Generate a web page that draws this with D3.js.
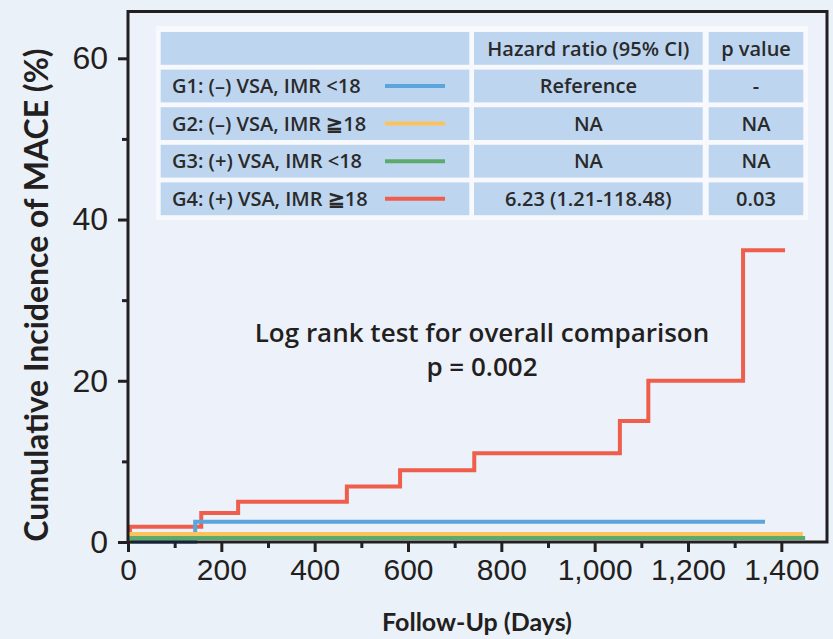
<!DOCTYPE html>
<html>
<head>
<meta charset="utf-8">
<script src="https://cdn.jsdelivr.net/npm/d3@7"></script>
<style>
  body { margin: 0; background: #ebf1f9; }
  svg { display: block; font-family: "Open Sans", Lato, sans-serif; }
</style>
</head>
<body>
<svg id="chart" width="833" height="639"></svg>
<script>
// Kaplan-Meier style cumulative incidence
const groupLabels = ['G1: (\u2013) VSA, IMR <18', 'G2: (\u2013) VSA, IMR \u226718', 'G3: (+) VSA, IMR <18', 'G4: (+) VSA, IMR \u226718'];
const groupColors = ['#5ba4dc', '#fbc35c', '#5dab6c', '#ef5d4b'];
const hazardRatios = ['Reference', 'NA', 'NA', '6.23 (1.21-118.48)'];
const pValues = ['-', 'NA', 'NA', '0.03'];

const g1Days = [0, 144, 1365];
const g1Values = [0, 2.5, 2.5];
const g2Days = [0, 2, 1446];
const g2Values = [0, 1.0, 1.0];
const g3Days = [0, 1451];
const g3Values = [0.5, 0.5];
const g4Days = [0, 4, 157, 236, 469, 583, 742, 1054, 1115, 1318, 1408];
const g4Values = [0, 1.9, 3.6, 5.0, 6.9, 8.9, 11.0, 15.0, 20.0, 36.2, 36.2];

const xMajorTicks = [0, 200, 400, 600, 800, 1000, 1200, 1400];
const xMinorTicks = [100, 300, 500, 700, 900, 1100, 1300];
const yMajorTicks = [0, 20, 40, 60];
const yMinorTicks = [10, 30, 50];

const svg = d3.select('#chart');
const ink = '#231f20';

svg.append('rect').attr('width', 833).attr('height', 639).attr('fill', '#ebf1f9');

const x = d3.scaleLinear().domain([0, 1500]).range([128, 828]);
const y = d3.scaleLinear().domain([0, 60]).range([542, 58.3]);
const yTop = 65.8;
const framePath = `M${x(0)},${y(0)}V${y(yTop)}H${x(1500) - 1}V${y(0)}Z`;

svg.append('path').attr('d', framePath).attr('fill', '#edf2fa');

// series
const series = [
  { days: g4Days, values: g4Values, color: groupColors[3] },
  { days: g1Days, values: g1Values, color: groupColors[0] },
  { days: g2Days, values: g2Values, color: groupColors[1] },
  { days: g3Days, values: g3Values, color: groupColors[2] }
];

const line = d3.line()
  .x(d => x(d[0]))
  .y(d => y(d[1]))
  .curve(d3.curveStepAfter);

svg.selectAll('path.km')
  .data(series)
  .enter()
  .append('path')
  .attr('class', 'km')
  .attr('d', s => line(s.days.map((d, i) => [d, s.values[i]])))
  .attr('fill', 'none')
  .attr('stroke', s => s.color)
  .attr('stroke-width', 4);

// frame on top of the curves
svg.append('path')
  .attr('d', framePath)
  .attr('fill', 'none')
  .attr('stroke', ink)
  .attr('stroke-width', 3);

// axes
function styleAxis(g) {
  g.select('.domain').remove();
  g.selectAll('.tick line').attr('stroke', ink).attr('stroke-width', 3);
  g.selectAll('.tick text').attr('fill', ink).style('font-size', '30px');
}

svg.append('g')
  .attr('transform', `translate(0,${y(0)})`)
  .call(d3.axisBottom(x).tickValues(xMajorTicks).tickSize(10).tickPadding(7).tickFormat(d3.format(',')))
  .call(styleAxis);

svg.append('g')
  .attr('transform', `translate(0,${y(0)})`)
  .call(d3.axisBottom(x).tickValues(xMinorTicks).tickSize(6).tickFormat(''))
  .call(styleAxis);

svg.append('g')
  .attr('transform', `translate(${x(0)},0)`)
  .call(d3.axisLeft(y).tickValues(yMajorTicks).tickSize(10).tickPadding(10))
  .call(g => g.call(styleAxis).selectAll('.tick text').style('font-size', '32px'));

svg.append('g')
  .attr('transform', `translate(${x(0)},0)`)
  .call(d3.axisLeft(y).tickValues(yMinorTicks).tickSize(6).tickFormat(''))
  .call(styleAxis);

// axis titles
svg.append('text')
  .attr('x', 477).attr('y', 631)
  .attr('text-anchor', 'middle')
  .attr('fill', ink)
  .style('font-family', 'Lato, sans-serif')
  .style('font-size', '25px').style('font-weight', 700)
  .text('Follow-Up (Days)');

svg.append('text')
  .attr('transform', 'translate(48,295) rotate(-90)')
  .attr('text-anchor', 'middle')
  .attr('fill', ink)
  .style('font-family', 'Lato, sans-serif')
  .style('font-size', '32px').style('font-weight', 700)
  .text('Cumulative Incidence of MACE (%)');

// log rank annotation
svg.append('text')
  .attr('x', 482).attr('y', 342)
  .attr('text-anchor', 'middle')
  .attr('fill', ink)
  .style('font-size', '26px').style('font-weight', 600)
  .text('Log rank test for overall comparison');

svg.append('text')
  .attr('x', 482).attr('y', 376)
  .attr('text-anchor', 'middle')
  .attr('fill', ink)
  .style('font-size', '26px').style('font-weight', 600)
  .text('p = 0.002');

// table legend
const table = svg.append('g');
table.append('rect')
  .attr('x', 156).attr('y', 26).attr('width', 652).attr('height', 194)
  .attr('fill', '#f7f9fd');

const colX = [160.7, 474, 708.7];
const colW = [308.6, 228.7, 94.6];
const rowY = i => 32 + i * 37.6;
const rowH = 32.8;
const cellFill = '#bed5ef';

for (let r = 0; r < 5; r++) {
  for (let c = 0; c < 3; c++) {
    table.append('rect')
      .attr('x', colX[c]).attr('y', rowY(r))
      .attr('width', colW[c]).attr('height', rowH)
      .attr('fill', cellFill);
  }
}

const cellText = (tx, ty, txt, anchor) => table.append('text')
  .attr('x', tx).attr('y', ty + rowH / 2)
  .attr('dy', '0.36em')
  .attr('text-anchor', anchor)
  .attr('fill', '#2a2a2a')
  .style('font-size', '20px')
  .style('font-weight', 600)
  .text(txt);

cellText(colX[1] + colW[1] / 2, rowY(0), 'Hazard ratio (95% CI)', 'middle');
cellText(colX[2] + colW[2] / 2, rowY(0), 'p value', 'middle');

groupLabels.forEach((lab, i) => {
  const ry = rowY(i + 1);
  cellText(172, ry, lab, 'start');
  table.append('line')
    .attr('x1', 385).attr('x2', 445)
    .attr('y1', ry + rowH / 2).attr('y2', ry + rowH / 2)
    .attr('stroke', groupColors[i]).attr('stroke-width', 4);
  cellText(colX[1] + colW[1] / 2, ry, hazardRatios[i], 'middle');
  cellText(colX[2] + colW[2] / 2, ry, pValues[i], 'middle');
});
</script>
</body>
</html>
